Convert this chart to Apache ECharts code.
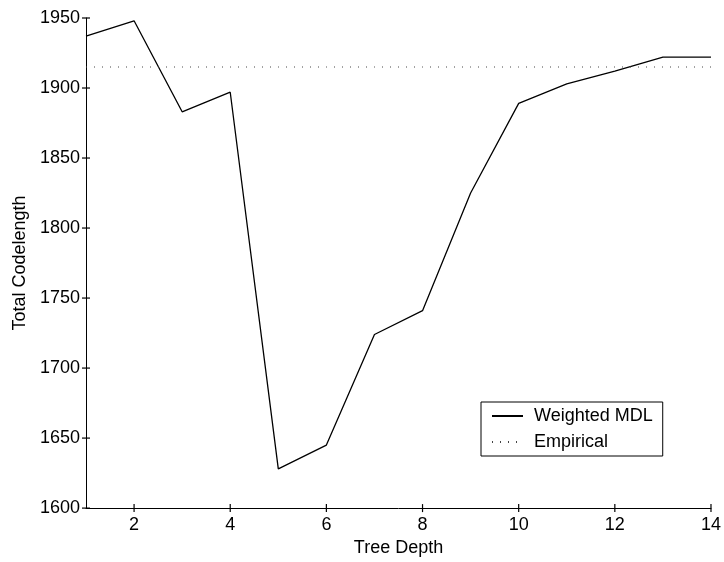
<!DOCTYPE html>
<html>
<head>
<meta charset="utf-8">
<script src="https://cdn.jsdelivr.net/npm/echarts@6/dist/echarts.min.js"></script>
<style>
html,body{margin:0;padding:0;background:#fff;}
#c{width:724px;height:562px;}
</style>
</head>
<body>
<div id="c"></div>
<script>
var depths = [1,2,3,4,5,6,7,8,9,10,11,12,13,14];
var weightedMDL = [1937,1948,1883,1897,1628,1645,1724,1741,1825,1889,1903,1912,1922,1922];
var empiricalValue = 1915;
var xTicks = [2,4,6,8,10,12,14];
var yTicks = [1600,1650,1700,1750,1800,1850,1900,1950];
var xMin = 1, xMax = 14;
var yMin = 1600, yMax = 1950, yStep = 50;

var font = 'Liberation Sans, Arial, Helvetica, sans-serif';
var TICK = 8;

var chart = echarts.init(document.getElementById('c'), null, {renderer:'canvas'});
chart.setOption({
  animation:false,
  backgroundColor:'#fff',
  grid:{left:86, right:13, top:18, bottom:51, containLabel:false},
  legend:{
    left:481, top:402,
    orient:'vertical',
    itemWidth:31, itemHeight:14, itemGap:8,
    padding:[5,10,5,10],
    borderColor:'#000', borderWidth:1, borderRadius:0,
    backgroundColor:'#fff',
    itemStyle:{opacity:0},
    textStyle:{fontFamily:font, fontSize:18, color:'#000', padding:[0,0,0,6]},
    data:['Weighted MDL','Empirical']
  },
  xAxis:{
    type:'value', min:xMin, max:xMax,
    name:'Tree Depth', nameLocation:'middle', nameGap:27,
    nameTextStyle:{fontFamily:font, fontSize:18, color:'#000'},
    axisLine:{show:true, onZero:false, lineStyle:{color:'#000', width:1}},
    axisTick:{show:false},
    axisLabel:{customValues:xTicks, fontFamily:font, fontSize:18, color:'#000', margin:8},
    splitLine:{show:false}
  },
  yAxis:{
    type:'value', min:yMin, max:yMax, interval:yStep,
    name:'Total Codelength', nameLocation:'middle', nameGap:54,
    nameTextStyle:{fontFamily:font, fontSize:18, color:'#000'},
    axisLine:{show:true, onZero:false, lineStyle:{color:'#000', width:1}},
    axisTick:{show:false},
    axisLabel:{fontFamily:font, fontSize:18, color:'#000', margin:6, formatter:function(v){return String(v);}},
    splitLine:{show:false}
  },
  series:[
    {
      name:'Weighted MDL', type:'line', symbol:'none',
      data: depths.map(function(d,i){return [d, weightedMDL[i]];}),
      lineStyle:{color:'#000', width:1.3},
      itemStyle:{color:'#000'}
    },
    {
      name:'Empirical', type:'line', symbol:'none',
      data: depths.map(function(d){return [d, empiricalValue];}),
      lineStyle:{color:'#444', width:1, type:[1,7]},
      itemStyle:{color:'#444'}
    },
    {
      name:'xticks', type:'scatter', silent:true, z:5,
      symbol:'rect', symbolSize:[1.2, TICK],
      data: xTicks.map(function(t){return [t, yMin];}),
      itemStyle:{color:'#000', opacity:1}
    },
    {
      name:'yticks', type:'scatter', silent:true, z:5,
      symbol:'rect', symbolSize:[TICK, 1.2],
      data: yTicks.map(function(t){return [xMin, t];}),
      itemStyle:{color:'#000', opacity:1}
    }
  ]
});
</script>
</body>
</html>
